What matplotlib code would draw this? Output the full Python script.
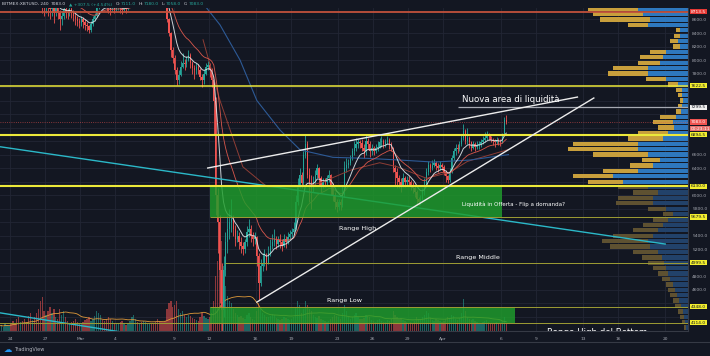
import numpy as np
import pandas as pd
import matplotlib
matplotlib.use("Agg")
import matplotlib.pyplot as plt
from matplotlib.patches import Rectangle

BG = '#131722'
UP = '#26a69a'
DOWN = '#ef5350'
GRID = '#222634'
TXT = '#a3a6af'

# 4h candles BITMEX:XBTUSD, day 0 = 24 Feb (first candle 23 Feb 00:00)
first_open = 9650
closes = [
    9700, 9750, 9800, 9850, 9900, 9960,
    9900, 9850, 9750, 9700, 9600, 9660,
    9600, 9550, 9450, 9400, 9300, 9320,
    9250, 9150, 9000, 8900, 8800, 8780,
    8850, 8800, 8750, 8800, 8700, 8780,
    8700, 8600, 8650, 8750, 8700, 8690,
    8750, 8700, 8650, 8600, 8580, 8550,
    8600, 8560, 8520, 8500, 8450, 8530,
    8600, 8650, 8780, 8850, 8900, 8880,
    8850, 8800, 8780, 8750, 8800, 8760,
    8780, 8800, 8760, 8740, 8770, 8760,
    8800, 8850, 8950, 9050, 9100, 9060,
    9080, 9050, 9100, 9120, 9150, 9150,
    9100, 9050, 9000, 8950, 8920, 8900,
    8880, 8850, 8600, 8400, 8150, 8030,
    7850, 7700, 7780, 7900, 7950, 7940,
    8000, 8080, 7950, 7880, 7850, 7900,
    7850, 7750, 7700, 7800, 7900, 7930,
    7850, 7700, 7400, 6000, 5600, 4900,
    4300, 4900, 5300, 5500, 5600, 5650,
    5500, 5350, 5400, 5300, 5250, 5200,
    5300, 5450, 5500, 5400, 5350, 5380,
    5100, 4700, 4950, 5000, 5100, 5000,
    5150, 5250, 5300, 5350, 5280, 5330,
    5300, 5250, 5350, 5300, 5380, 5420,
    5450, 5500, 5900, 6150, 6300, 6180,
    6600, 6750, 6300, 6200, 6100, 6200,
    6300, 6400, 6250, 6150, 6200, 6190,
    6250, 6300, 6150, 6000, 5900, 5830,
    5900, 5850, 6000, 6400, 6450, 6480,
    6550, 6650, 6700, 6750, 6780, 6770,
    6700, 6650, 6800, 6750, 6650, 6700,
    6650, 6700, 6720, 6780, 6800, 6750,
    6780, 6820, 6750, 6700, 6400, 6350,
    6250, 6200, 6150, 6250, 6200, 6230,
    6200, 6150, 6100, 6050, 5950, 5900,
    5950, 6050, 6150, 6350, 6450, 6400,
    6450, 6480, 6430, 6400, 6450, 6420,
    6350, 6280, 6220, 6350, 6550, 6650,
    6700, 6680, 6750, 6850, 6950, 6800,
    6850, 6780, 6700, 6750, 6720, 6740,
    6760, 6780, 6820, 6850, 6880, 6870,
    6820, 6800, 6780, 6820, 6790, 6780,
    6900, 7111, 7083,
]
highs = [
    9760, 9800, 9850, 9900, 9960, 10000,
    9990, 9920, 9880, 9780, 9720, 9700,
    9700, 9650, 9580, 9480, 9420, 9360,
    9350, 9270, 9180, 9050, 8950, 8880,
    8900, 8900, 8850, 8900, 8850, 8830,
    8820, 8740, 8720, 8880, 8800, 8760,
    8800, 8790, 8740, 8700, 8650, 8620,
    8650, 8640, 8600, 8560, 8520, 8580,
    8650, 8700, 8800, 8900, 8950, 8950,
    8950, 8900, 8850, 8830, 8850, 8830,
    8830, 8850, 8840, 8800, 8810, 8800,
    8830, 8900, 9000, 9100, 9150, 9120,
    9120, 9110, 9130, 9170, 9190, 9180,
    9190, 9120, 9080, 9020, 8980, 8960,
    8930, 8900, 8860, 8620, 8420, 8200,
    8080, 7900, 7850, 7980, 8100, 8020,
    8060, 8150, 8100, 7980, 7920, 7950,
    7940, 7880, 7800, 7850, 7960, 7980,
    7960, 7880, 7720, 7450, 6100, 5700,
    5000, 5100, 5450, 5700, 5800, 5950,
    5700, 5560, 5480, 5450, 5380, 5300,
    5350, 5550, 5650, 5560, 5450, 5450,
    5400, 5150, 5050, 5150, 5200, 5150,
    5250, 5350, 5420, 5500, 5400, 5400,
    5420, 5350, 5420, 5400, 5450, 5480,
    5520, 5600, 6000, 6250, 6400, 6350,
    6650, 6900, 6800, 6400, 6300, 6280,
    6380, 6460, 6420, 6280, 6250, 6260,
    6300, 6380, 6320, 6180, 6050, 5950,
    5950, 5950, 6150, 6500, 6550, 6530,
    6600, 6700, 6800, 6850, 6830, 6820,
    6830, 6750, 6900, 6850, 6800, 6750,
    6730, 6760, 6800, 6850, 6880, 6830,
    6830, 6880, 6850, 6780, 6720, 6450,
    6400, 6300, 6250, 6330, 6280, 6290,
    6280, 6230, 6200, 6150, 6080, 5980,
    6000, 6100, 6250, 6400, 6500, 6480,
    6520, 6540, 6510, 6470, 6500, 6480,
    6450, 6380, 6300, 6400, 6600, 6700,
    6750, 6760, 6800, 6900, 7050, 6980,
    6990, 6880, 6800, 6800, 6780, 6800,
    6800, 6830, 6870, 6930, 6950, 6920,
    6880, 6850, 6830, 6860, 6840, 6830,
    6920, 7150, 7180,
]
lows = [
    9650, 9690, 9740, 9790, 9840, 9890,
    9850, 9780, 9700, 9600, 9500, 9560,
    9550, 9480, 9400, 9300, 9250, 9260,
    9180, 9080, 8920, 8800, 8700, 8650,
    8700, 8650, 8600, 8650, 8550, 8650,
    8600, 8450, 8520, 8600, 8620, 8600,
    8650, 8620, 8580, 8520, 8500, 8480,
    8500, 8480, 8450, 8430, 8400, 8420,
    8500, 8580, 8640, 8760, 8820, 8830,
    8800, 8720, 8700, 8670, 8720, 8700,
    8720, 8740, 8700, 8680, 8720, 8700,
    8740, 8780, 8840, 8930, 9020, 9000,
    9020, 9000, 9040, 9080, 9100, 9110,
    9080, 9020, 8960, 8900, 8880, 8860,
    8840, 8800, 8560, 8350, 8050, 7950,
    7800, 7630, 7650, 7760, 7880, 7850,
    7900, 7980, 7880, 7800, 7720, 7800,
    7800, 7700, 7600, 7650, 7780, 7850,
    7750, 7600, 6900, 5700, 5150, 4400,
    3600, 4200, 4800, 5150, 5350, 5450,
    5400, 5250, 5300, 5200, 5150, 5120,
    5150, 5250, 5380, 5300, 5250, 5280,
    4950, 4450, 4650, 4880, 4950, 4900,
    4980, 5100, 5200, 5250, 5200, 5230,
    5220, 5180, 5230, 5220, 5280, 5330,
    5380, 5420, 5480, 5850, 6100, 6100,
    6150, 6550, 6250, 5900, 5800, 6050,
    6150, 6250, 6150, 6050, 6100, 6120,
    6150, 6200, 6000, 5920, 5800, 5750,
    5780, 5780, 5830, 5980, 6350, 6400,
    6450, 6520, 6600, 6650, 6700, 6700,
    6650, 6550, 6600, 6680, 6560, 6600,
    6600, 6620, 6650, 6700, 6720, 6700,
    6720, 6750, 6680, 6650, 6350, 6150,
    6100, 6100, 6050, 6120, 6120, 6150,
    6150, 6080, 6030, 5980, 5870, 5850,
    5860, 5920, 6000, 6120, 6300, 6350,
    6370, 6420, 6380, 6350, 6380, 6370,
    6300, 6200, 6180, 6200, 6330, 6520,
    6600, 6620, 6650, 6730, 6820, 6750,
    6750, 6700, 6650, 6680, 6660, 6680,
    6680, 6720, 6750, 6790, 6820, 6810,
    6780, 6740, 6720, 6760, 6740, 6730,
    6770, 6880, 7058,
]
volumes = [
    5, 6, 4, 7, 6, 5,
    8, 10, 7, 12, 14, 9,
    10, 12, 9, 15, 18, 11,
    14, 18, 22, 30, 34, 20,
    16, 20, 24, 18, 22, 14,
    12, 22, 16, 20, 14, 10,
    8, 9, 10, 12, 9, 7,
    7, 9, 11, 12, 14, 10,
    12, 15, 20, 18, 16, 11,
    10, 12, 14, 12, 10, 8,
    7, 8, 9, 10, 8, 6,
    8, 10, 14, 16, 12, 9,
    8, 9, 10, 9, 8, 7,
    7, 8, 9, 12, 10, 9,
    9, 10, 22, 28, 30, 24,
    26, 30, 22, 18, 20, 16,
    14, 16, 15, 13, 12, 11,
    10, 14, 18, 15, 13, 12,
    14, 18, 30, 55, 70, 80,
    90, 65, 45, 35, 30, 28,
    22, 18, 16, 14, 15, 13,
    12, 16, 18, 14, 12, 11,
    20, 28, 22, 18, 16, 14,
    14, 15, 17, 16, 13, 12,
    11, 12, 14, 13, 12, 11,
    12, 14, 24, 30, 26, 18,
    22, 30, 26, 22, 20, 16,
    14, 13, 15, 12, 11, 10,
    9, 10, 12, 14, 16, 15,
    14, 12, 18, 26, 20, 14,
    12, 14, 16, 18, 14, 12,
    12, 13, 16, 15, 14, 11,
    10, 9, 11, 12, 10, 9,
    9, 11, 10, 12, 20, 16,
    14, 12, 13, 11, 10, 9,
    8, 9, 8, 10, 14, 12,
    12, 14, 16, 20, 18, 13,
    11, 10, 12, 11, 10, 9,
    10, 12, 14, 13, 16, 15,
    12, 11, 13, 18, 32, 20,
    14, 12, 11, 12, 10, 9,
    8, 7, 9, 10, 11, 9,
    8, 7, 8, 9, 8, 7,
    10, 14, 8,
]

date_pos = [0, 3, 6, 9, 14, 17, 21, 24, 28, 31, 34, 37, 42, 45, 49, 52, 56]
date_labels = ['24', '27', 'Mar', '4', '9', '12', '16', '19', '23', '26', '29',
               'Apr', '6', '9', '13', '16', '20']

# slower moving averages (day, price)
blue_ma_day = [16.67, 17.95, 19.66, 21.1, 23.1, 24.8, 27.6, 30.5, 33.3, 36.2, 39.3, 42.6]
blue_ma_price = [8800, 8520, 8000, 7400, 6960, 6670, 6560, 6545, 6520, 6490, 6520, 6600]
brown_ma_day = [16.5, 17.95, 19.9, 22.0, 24.8, 26.5, 29.1, 31.6, 33.1, 35.6, 37.6, 39.1, 42.5]
brown_ma_price = [8300, 7400, 6420, 6120, 6120, 6180, 6370, 6480, 6420, 6250, 6340, 6500, 6670]

# horizontal levels
level_prices = [7622.5, 6894.5, 6130.0, 5679.5, 4999.5, 4348.0, 4114.0]
level_start = [-0.9, -0.9, -0.9, 17.09, 18.4, 17.09, -0.9]
level_major = [True, True, True, False, False, False, False]

# liquidity zones (start day, end day, low, high)
zone_start = [17.09, 17.09]
zone_end = [42.05, 43.16]
zone_low = [5679.5, 4114.0]
zone_high = [6130.0, 4348.0]

# trend lines (day, price)
wedge_top = ([16.9, 48.5], [6402, 7452])
wedge_bottom = ([21.1, 49.9], [4418, 7438])
cyan_line = ([-0.9, 56.0], [6718, 5277])
cyan_line2 = ([-0.9, 9.15], [4260, 3985])

# visible range volume profile: bins of 80, lengths in px
vp_bins = np.arange(4000, 8800, 80)
vp_total = [4, 6, 8, 10, 13, 15, 18, 20, 22, 26,
            30, 35, 40, 46, 55, 78, 86, 75, 55, 45,
            35, 25, 40, 72, 70, 55, 70, 100, 115, 85,
            58, 46, 95, 120, 115, 60, 50, 30, 35, 28,
            12, 10, 8, 10, 12, 20, 42, 80, 75, 50,
            48, 38, 15, 18, 14, 12, 60, 88, 95, 100]
vp_up = [2, 3, 4, 5, 7, 9, 11, 13, 15, 18,
         20, 22, 24, 26, 30, 38, 40, 35, 30, 25,
         20, 15, 22, 35, 35, 30, 40, 65, 75, 50,
         35, 28, 40, 50, 50, 25, 20, 14, 15, 12,
         7, 6, 5, 6, 6, 10, 22, 40, 40, 28,
         25, 22, 8, 10, 8, 8, 40, 38, 45, 50]

# price tags on the right scale
tag_prices = [8713.5, 7622.5, 7299.5, 7083.0, 6985.0, 6894.5, 6130.0, 5679.5, 4999.5, 4348.0, 4114.0]
tag_texts = ['8713.5', '7622.5', '7299.5', '7083.0', '00:23:11', '6894.5', '6130.0', '5679.5',
             '4999.5', '4348.0', '4114.0']
tag_bg = ['#e53935', '#f2ee2e', '#f0f0f0', '#ef5350', '#e8706c', '#f2ee2e', '#f2ee2e', '#f2ee2e',
          '#f2ee2e', '#f2ee2e', '#f2ee2e']
tag_fg = ['white', '#131722', '#131722', 'white', 'white', '#131722', '#131722', '#131722',
          '#131722', '#131722', '#131722']

PX_PER_DAY = 11.7
PRICE_PER_PX = 14.8
X0, X1 = -0.855, 57.95
Y0, Y1 = 3990, 8770

closes = np.array(closes, float)
highs = np.array(highs, float)
lows = np.array(lows, float)
opens = np.concatenate([[first_open], closes[:-1]])
highs = np.maximum(highs, np.maximum(opens, closes))
lows = np.minimum(lows, np.minimum(opens, closes))
t = np.arange(len(closes)) / 6 - 1 + 1 / 12
cols = [UP if c >= o else DOWN for o, c in zip(opens, closes)]

fig = plt.figure(figsize=(7.1, 3.56), dpi=100, facecolor=BG)
ax = fig.add_axes([0, 1 - 331 / 356, 688 / 710, 323 / 356])
ax.set_facecolor(BG)
ax.set_xlim(X0, X1)
ax.set_ylim(Y0, Y1)

# grid / axes
ax.set_xticks(date_pos)
ax.set_xticklabels(date_labels)
ax.yaxis.tick_right()
yt = np.arange(4200, 8601, 200)
ax.set_yticks(yt)
# the coloured price tags cover the grey labels next to them
ax.set_yticklabels([f'{v:.1f}' if min(abs(v - p) for p in tag_prices) > 110 else ''
                    for v in yt])
ax.tick_params(axis='both', length=0, labelsize=3.2, colors=TXT)
ax.tick_params(axis='x', pad=4)
ax.tick_params(axis='y', pad=3)
ax.grid(color=GRID, lw=0.6, zorder=0)
ax.set_axisbelow(True)
for s in ['top', 'left']:
    ax.spines[s].set_visible(False)
for s in ['bottom', 'right']:
    ax.spines[s].set_color('#363a45')
    ax.spines[s].set_linewidth(0.8)

# volume profile
for b, tot, up in zip(vp_bins, vp_total, vp_up):
    faded = b < 6100
    gold = '#5e5131' if faded else '#c89f3c'
    blue = '#22426a' if faded else '#2e78be'
    ax.barh(b + 40, tot / PX_PER_DAY, left=X1 - tot / PX_PER_DAY, height=64,
            color=gold, lw=0, zorder=1.2)
    ax.barh(b + 40, up / PX_PER_DAY, left=X1 - up / PX_PER_DAY, height=64,
            color=blue, lw=0, zorder=1.3)

# volume bars
vol = np.array(volumes, float)
ax.bar(t, vol * PRICE_PER_PX, bottom=Y0, width=0.11, color=cols, alpha=0.55, lw=0, zorder=1.5)
vol_ma = pd.Series(vol).rolling(20, min_periods=1).mean()
ax.plot(t, vol_ma * PRICE_PER_PX + Y0, color='#e09a3a', lw=0.6, zorder=1.6)

# candles
ax.vlines(t, lows, highs, colors=cols, lw=0.6, zorder=2)
body_lo = np.minimum(opens, closes)
body_h = np.maximum(np.abs(closes - opens), 12)
ax.bar(t, body_h, bottom=body_lo, width=0.11, color=cols, lw=0, zorder=2)

# moving averages
ema_fast = pd.Series(closes).ewm(span=9, adjust=False).mean()
ema_mid = pd.Series(closes).ewm(span=21, adjust=False).mean()
ax.plot(t, ema_fast, color='#dfe6ea', lw=0.7, alpha=0.9, zorder=2.4)
ax.plot(t, ema_mid, color='#d9574c', lw=0.6, zorder=2.3)
ax.plot(brown_ma_day, brown_ma_price, color='#8e3d35', lw=0.7, zorder=2.2)
ax.plot(blue_ma_day, blue_ma_price, color='#2d5a96', lw=0.8, zorder=2.2)

# trend lines under zones
ax.plot(*cyan_line, color='#2bb8c8', lw=1.0, zorder=2.6)
ax.plot(*cyan_line2, color='#2bb8c8', lw=1.0, zorder=2.6)

# zones
for x0, x1, lo, hi in zip(zone_start, zone_end, zone_low, zone_high):
    ax.add_patch(Rectangle((x0, lo), x1 - x0, hi - lo, facecolor='#1f9e2c', alpha=0.82,
                           lw=0, zorder=3))

# horizontal levels
for p, s, major in zip(level_prices, level_start, level_major):
    if major:
        ax.hlines(p, s, X1, color='#ece93a', lw=1.5 if p < 7600 else 1.1, zorder=4)
    else:
        ax.hlines(p, s, X1, color='#9e9d34', lw=0.7, zorder=4)
ax.hlines(8713.5, X0, X1, color='#c2513c', lw=1.3, zorder=4)
ax.hlines(7299.5, 38.3, X1, color='#a6a9b2', lw=0.9, zorder=4)
ax.hlines(7083.0, X0, X1, color=DOWN, lw=0.6, ls=':', alpha=0.7, zorder=4)

ax.plot(*wedge_top, color='#ececec', lw=1.0, zorder=5)
ax.plot(*wedge_bottom, color='#ececec', lw=1.0, zorder=5)

# annotations
ax.text(38.6, 7423, 'Nuova area di liquidità', color='white', fontsize=6.2, va='center', zorder=6)
ax.text(38.6, 5869, 'Liquidità in Offerta - Flip a domanda?', color='white', fontsize=3.95,
        va='center', zorder=6)
ax.text(29.7, 5514, 'Range High', color='white', fontsize=4.6, ha='center', va='center', zorder=6)
ax.text(40.0, 5085, 'Range Middle', color='white', fontsize=4.6, ha='center', va='center', zorder=6)
ax.text(28.6, 4448, 'Range Low', color='white', fontsize=4.6, ha='center', va='center', zorder=6)
ax.text(50.2, 3975, 'Range High del Bottom', color='white', fontsize=6.2, ha='center',
        va='center', zorder=6, clip_on=True)

# price tags
for p, s, bg, fg in zip(tag_prices, tag_texts, tag_bg, tag_fg):
    ax.text(1.004, p, s, transform=ax.get_yaxis_transform(), fontsize=3.2, color=fg,
            va='center', ha='left', clip_on=False, zorder=10,
            bbox=dict(boxstyle='square,pad=0.15', fc=bg, ec='none'))

# header, pieces laid out one after another
hdr = [('BITMEX:XBTUSD, 240', '#d1d4dc', 2.5), ('7083.0', '#d1d4dc', 3.0),
       ('▲ +307.5 (+4.54%)', UP, 3.0), ('O:', '#d1d4dc', 0.3), ('7111.0', UP, 3.0),
       ('H:', '#d1d4dc', 0.3), ('7180.0', UP, 3.0), ('L:', '#d1d4dc', 0.3),
       ('7058.0', UP, 3.0), ('C:', '#d1d4dc', 0.3), ('7083.0', UP, 0)]
renderer = fig.canvas.get_renderer()
x = 2.0
for s, c, gap in hdr:
    tx = fig.text(x / 710, 1 - 4 / 356, s, color=c, fontsize=3.2, va='center', ha='left')
    x = tx.get_window_extent(renderer).x1 + gap

# bottom frame and logo
fig.add_artist(plt.Line2D([0, 1], [1 - 342 / 356] * 2, color='#363a45', lw=0.8))
fig.text(4 / 710, 1 - 349 / 356, '☁', color='#2196f3', fontsize=6, va='center', ha='left')
fig.text(14 / 710, 1 - 349 / 356, 'TradingView', color='#b2b5be', fontsize=3.6,
         va='center', ha='left')

fig.savefig('out.png', dpi=100, facecolor=BG)
